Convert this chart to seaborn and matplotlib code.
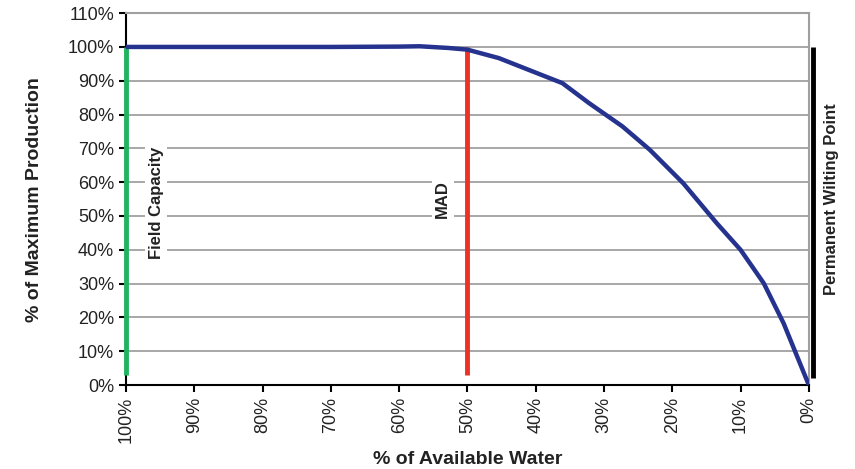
import matplotlib
matplotlib.use("Agg")
import matplotlib.pyplot as plt
import seaborn as sns
import pandas as pd
from matplotlib.ticker import FuncFormatter, MultipleLocator

sns.set_theme(style="white")
plt.rcParams['font.family'] = ['Liberation Sans', 'DejaVu Sans']

# courbe de production selon l'eau disponible
available_water = [100, 90, 80, 70, 60, 57, 52.8, 50, 45.4, 40.5, 36.1, 32.2, 27.3, 23.3,
                   18.4, 13.5, 10, 6.6, 3.7, 1.7, 0]
production = [100, 100, 100, 100, 100.1, 100.2, 99.7, 99.2, 96.7, 92.8, 89.3, 83.4, 76.5, 69.6,
              59.7, 47.9, 40.0, 30.1, 18.3, 8.4, 0]

# lignes de repère verticales
marker_names = ["Field Capacity", "MAD", "Permanent Wilting Point"]
marker_x = [100, 50, -0.6]
marker_bottom = [3, 3, 2]
marker_top = [100, 100, 100]
marker_colors = ["#22b360", "#ee3124", "#000000"]
label_x = [95.6, 53.6, -3.3]
label_y = [54, 55, 55]

df = pd.DataFrame({"water": available_water, "prod": production})

fig = plt.figure(figsize=(8.55, 4.69), dpi=100)
ax = fig.add_axes([0.1474, 0.179, 0.7986, 0.793])

ax.yaxis.grid(True, color="#a0a0a0", linewidth=1.3)
ax.set_axisbelow(True)

for x, b, t, c in zip(marker_x, marker_bottom, marker_top, marker_colors):
    ax.plot([x, x], [b, t], color=c, linewidth=3.5, solid_capstyle="butt", clip_on=False, zorder=3)

sns.lineplot(data=df, x="water", y="prod", ax=ax, color="#25338f", linewidth=3.2, zorder=4)

for name, x, y in zip(marker_names, label_x, label_y):
    ax.text(x, y, name, rotation=90, ha="center", va="center", fontsize=12, fontweight="bold",
            color="#222222", clip_on=False, bbox=dict(facecolor="white", edgecolor="none", pad=2.5), zorder=2)

ax.set_xlim(100, 0)
ax.set_ylim(0, 110)
ax.xaxis.set_major_locator(MultipleLocator(10))
ax.yaxis.set_major_locator(MultipleLocator(10))
pct = FuncFormatter(lambda v, p: f"{v:.0f}%")
ax.xaxis.set_major_formatter(pct)
ax.yaxis.set_major_formatter(pct)
plt.setp(ax.get_xticklabels(), rotation=90)

ax.tick_params(axis="both", which="major", direction="out", length=5, width=1.5, color="black",
               labelsize=13, labelcolor="#222222", bottom=True, left=True)

for side in ["left", "bottom"]:
    ax.spines[side].set_color("black")
    ax.spines[side].set_linewidth(1.5)
for side in ["top", "right"]:
    ax.spines[side].set_color("#a0a0a0")
    ax.spines[side].set_linewidth(1.5)

ax.set_xlabel("% of Available Water", fontsize=14, fontweight="bold", color="#222222", labelpad=6)
ax.set_ylabel("% of Maximum Production", fontsize=14, fontweight="bold", color="#222222", labelpad=18)

fig.savefig("out.png", dpi=100)
